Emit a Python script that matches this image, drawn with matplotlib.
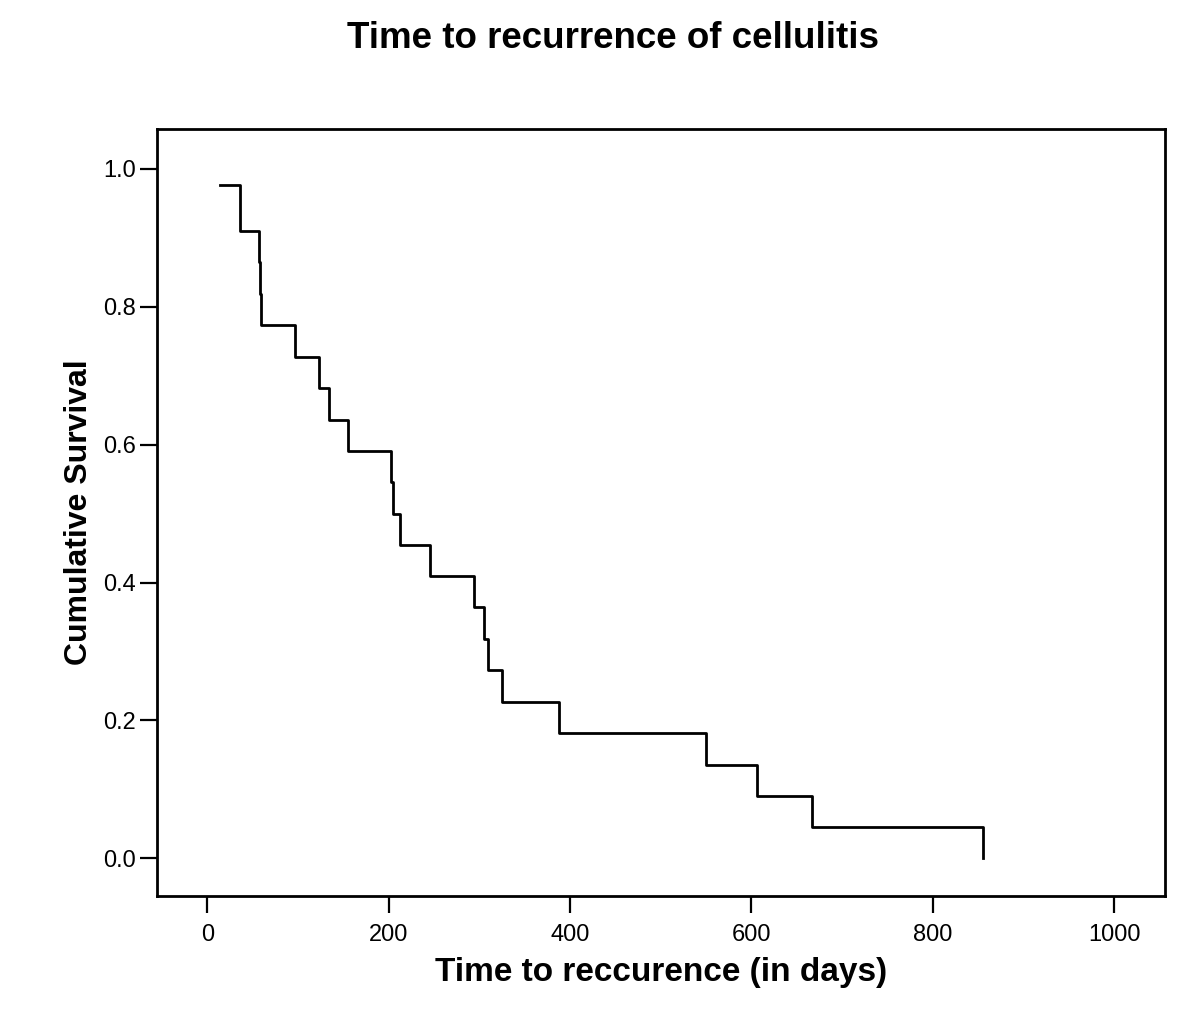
import matplotlib
matplotlib.use("Agg")
import matplotlib.pyplot as plt

# Kaplan-Meier estimate
event_days = [14, 36, 57, 58, 59, 97, 123, 134, 155, 203, 205, 213, 245,
              294, 305, 309, 325, 388, 550, 606, 667, 855]
cum_survival = [0.977, 0.909, 0.864, 0.818, 0.773, 0.727, 0.682, 0.636,
                0.591, 0.545, 0.500, 0.455, 0.409, 0.364, 0.318, 0.273,
                0.227, 0.182, 0.136, 0.091, 0.045, 0.000]
x_ticks = [0, 200, 400, 600, 800, 1000]
y_ticks = [0.0, 0.2, 0.4, 0.6, 0.8, 1.0]

plt.rcParams['font.family'] = ['Liberation Sans', 'DejaVu Sans']

fig = plt.figure(figsize=(12, 10.22), dpi=100)
ax = fig.add_axes([157/1200, 1 - 896/1022, (1165 - 157)/1200, (896 - 129)/1022])

ax.step(event_days, cum_survival, where='post', color='black', linewidth=2.0)

ax.set_xlim(-55.5, 1056)
ax.set_ylim(-0.0545, 1.0575)
ax.set_xticks(x_ticks)
ax.set_xticklabels([str(v) for v in x_ticks])
ax.set_yticks(y_ticks)
ax.set_yticklabels([f"{v:.1f}" for v in y_ticks])

for s in ax.spines.values():
    s.set_linewidth(2.0)
    s.set_color('black')
ax.tick_params(axis='both', direction='out', length=12, width=1.6,
               labelsize=17, colors='black')
ax.tick_params(axis='x', pad=8)
ax.tick_params(axis='y', pad=3)

ax.set_xlabel("Time to reccurence (in days)", fontsize=24, fontweight='bold',
              labelpad=8)
ax.set_ylabel("Cumulative Survival", fontsize=23, fontweight='bold',
              labelpad=7)
fig.text(613/1200, 1 - 38/1022, "Time to recurrence of cellulitis",
         ha='center', va='center', fontsize=26.5, fontweight='bold')

fig.savefig("out.png", dpi=100, facecolor='white')
